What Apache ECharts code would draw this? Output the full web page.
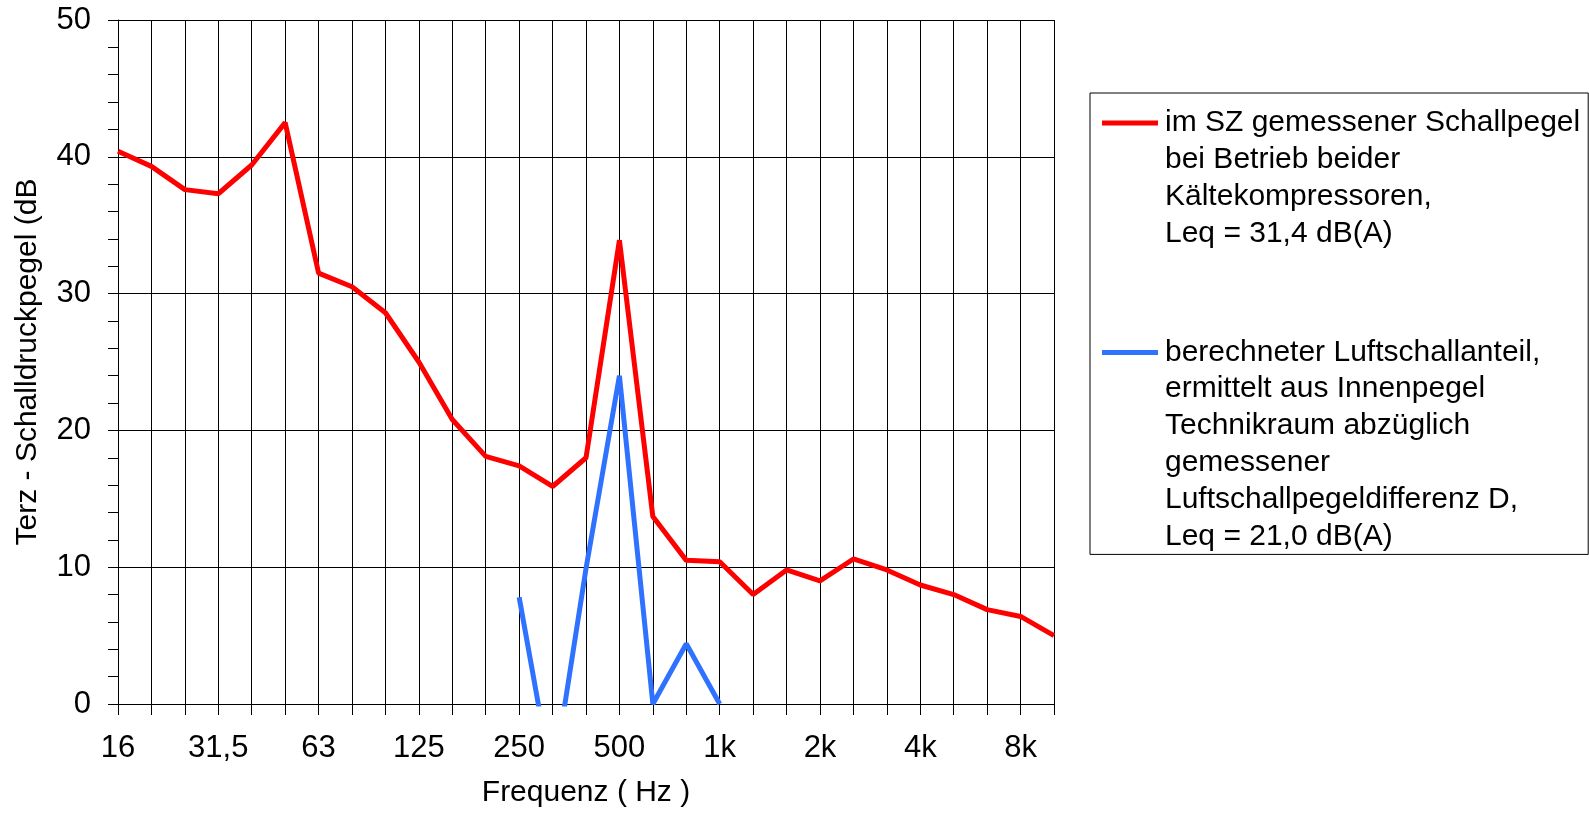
<!DOCTYPE html>
<html>
<head>
<meta charset="utf-8">
<script src="https://cdn.jsdelivr.net/npm/echarts@6/dist/echarts.min.js"></script>
<style>
    html, body { margin: 0; padding: 0; background: #fff; }
    #chart { width: 1589px; height: 815px; }
</style>
</head>
<body>
<div id="chart"></div>
<script>
// Terzband-Mittenfrequenzen
var freqLabels = ['16', '20', '25', '31,5', '40', '50', '63', '80', '100', '125', '160', '200',
    '250', '315', '400', '500', '630', '800', '1k', '1,25k', '1,6k', '2k', '2,5k', '3,15k',
    '4k', '5k', '6,3k', '8k', '10k'];

// im SZ gemessener Schallpegel (dB)
var measured = [40.4, 39.3, 37.6, 37.3, 39.4, 42.5, 31.5, 30.5, 28.6, 25.0, 20.8, 18.1,
    17.4, 15.9, 18.0, 33.9, 13.7, 10.5, 10.4, 8.0, 9.8, 9.0, 10.6, 9.8,
    8.7, 8.0, 6.9, 6.4, 5.0];

// berechneter Luftschallanteil (dB)
var airborne = [null, null, null, null, null, null, null, null, null, null, null, null,
    7.8, -5.8, 9.9, 24.0, 0, 4.4, 0, null, null, null, null, null,
    null, null, null, null, null];

var seriesNames = [
    'im SZ gemessener Schallpegel\nbei Betrieb beider\nKältekompressoren,\nLeq = 31,4 dB(A)',
    'berechneter Luftschallanteil,\nermittelt aus Innenpegel\nTechnikraum abzüglich\ngemessener\nLuftschallpegeldifferenz D,\nLeq = 21,0 dB(A)'
];
var seriesColors = ['#ff0000', '#2f72ff'];

var font = 'Liberation Sans, Arial, sans-serif';
var chart = echarts.init(document.getElementById('chart'));

chart.setOption({
    backgroundColor: '#fff',
    animation: false,
    textStyle: { fontFamily: font, color: '#000' },
    grid: { left: 118, right: 535, top: 20, bottom: 111 },
    legend: {
        orient: 'vertical',
        left: 1090,
        top: 93,
        padding: [15, 8, 3, 7],
        itemGap: 89,
        itemWidth: 0,
        itemHeight: 0,
        icon: 'rect',
        selectedMode: false,
        borderColor: '#000',
        borderWidth: 1,
        data: seriesNames,
        formatter: function(name) {
            var key = seriesNames.indexOf(name) === 0 ? 'r' : 'b';
            return name.split('\n').map(function(line, i) {
                return (i === 0 ? '{' + key + '|}' : '{s|}') + '{t|' + line + '}';
            }).join('\n');
        },
        textStyle: {
            rich: {
                r: { width: 56, height: 5, backgroundColor: seriesColors[0] },
                b: { width: 56, height: 5, backgroundColor: seriesColors[1] },
                s: { width: 56, height: 5 },
                t: { fontSize: 30, lineHeight: 36.8, color: '#000', fontFamily: font, padding: [0, 0, 0, 7] }
            }
        }
    },
    xAxis: {
        type: 'category',
        boundaryGap: false,
        data: freqLabels,
        name: 'Frequenz ( Hz )',
        nameLocation: 'middle',
        nameGap: 74,
        nameTextStyle: { fontSize: 30, color: '#000', fontFamily: font },
        axisLine: { lineStyle: { color: '#000', width: 1 } },
        axisTick: { show: true, interval: 0, length: 11, lineStyle: { color: '#000' } },
        axisLabel: {
            interval: function(index) { return index % 3 === 0; },
            fontSize: 31, color: '#000', margin: 29
        },
        splitLine: { show: true, interval: 0, lineStyle: { color: '#000', width: 1 } }
    },
    yAxis: {
        type: 'value',
        min: 0,
        max: 50,
        interval: 10,
        name: 'Terz - Schalldruckpegel (dB',
        nameLocation: 'middle',
        nameGap: 75,
        nameTextStyle: { fontSize: 30, color: '#000', fontFamily: font },
        axisLine: { show: true, lineStyle: { color: '#000', width: 1 } },
        axisTick: { show: true, length: 10, lineStyle: { color: '#000' } },
        minorTick: { show: true, splitNumber: 5, length: 10, lineStyle: { color: '#000' } },
        axisLabel: { fontSize: 31, color: '#000', margin: 27 },
        splitLine: { show: true, lineStyle: { color: '#000', width: 1 } }
    },
    series: [{
        name: seriesNames[0],
        type: 'line',
        data: measured,
        symbol: 'none',
        color: seriesColors[0],
        lineStyle: { width: 5, color: seriesColors[0] }
    }, {
        name: seriesNames[1],
        type: 'line',
        data: airborne,
        symbol: 'none',
        clip: true,
        color: seriesColors[1],
        lineStyle: { width: 5, color: seriesColors[1] }
    }]
});
</script>
</body>
</html>
